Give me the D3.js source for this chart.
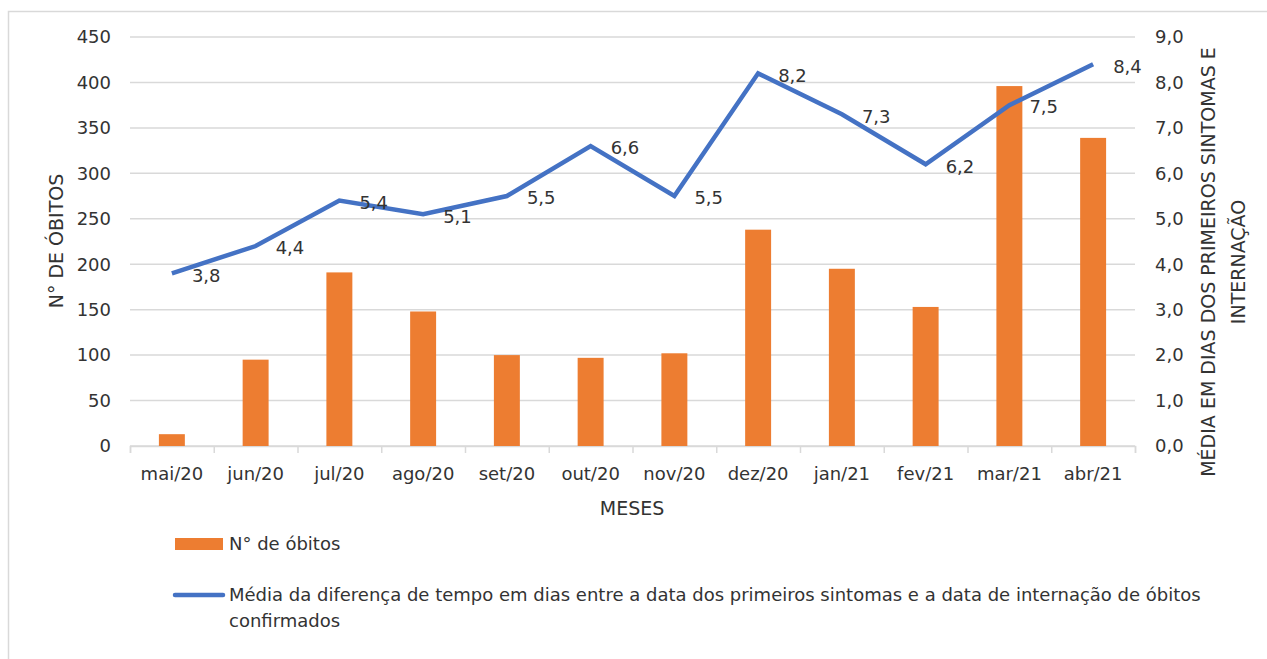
<!DOCTYPE html>
<html>
<head>
<meta charset="utf-8">
<script src="https://cdn.jsdelivr.net/npm/d3@7"></script>
<style>
	body { margin: 0; background: #fff; }
	svg text { font-family: "DejaVu Sans", sans-serif; fill: #333; }
</style>
</head>
<body>
<div id="chart"></div>
<script>
// Data
var months = ['mai/20', 'jun/20', 'jul/20', 'ago/20', 'set/20', 'out/20', 'nov/20', 'dez/20', 'jan/21', 'fev/21', 'mar/21', 'abr/21'];
var deaths = [13, 95, 191, 148, 100, 97, 102, 238, 195, 153, 396, 339];
var avgDays = [3.8, 4.4, 5.4, 5.1, 5.5, 6.6, 5.5, 8.2, 7.3, 6.2, 7.5, 8.4];
var leftTicks = [0, 50, 100, 150, 200, 250, 300, 350, 400, 450];
var rightTicks = [0, 1, 2, 3, 4, 5, 6, 7, 8, 9];

var fullWidth = 1267;
var fullHeight = 659;

var svg = d3.select('#chart')
	.append('svg')
	.attr('width', fullWidth)
	.attr('height', fullHeight);

// Plot area
var plot = {left: 130, right: 1135, top: 37, bottom: 446};

// Outer chart border
svg.append('rect')
	.attr('x', 8.5)
	.attr('y', 11.5)
	.attr('width', 1300)
	.attr('height', 700)
	.attr('fill', 'none')
	.attr('stroke', '#d9d9d9')
	.attr('stroke-width', 1.5);

// Scales
var xScale = d3.scaleBand()
	.domain(months)
	.range([plot.left, plot.right])
	.paddingInner(0.69)
	.paddingOuter(0.345);

var xEdges = d3.scaleLinear()
	.domain([0, months.length])
	.range([plot.left, plot.right]);

var yLeft = d3.scaleLinear()
	.domain([0, 450])
	.range([plot.bottom, plot.top]);

var yRight = d3.scaleLinear()
	.domain([0, 9])
	.range([plot.bottom, plot.top]);

// Gridlines
svg.append('g')
	.selectAll('line')
	.data(leftTicks)
	.enter()
	.append('line')
	.attr('x1', plot.left)
	.attr('x2', plot.right)
	.attr('y1', function(d) { return yLeft(d); })
	.attr('y2', function(d) { return yLeft(d); })
	.attr('stroke', '#d9d9d9')
	.attr('stroke-width', 1.5);

// Left axis labels
svg.append('g')
	.selectAll('text')
	.data(leftTicks)
	.enter()
	.append('text')
	.attr('x', 111)
	.attr('y', function(d) { return yLeft(d); })
	.attr('dy', '0.35em')
	.attr('text-anchor', 'end')
	.style('font-size', '18px')
	.text(function(d) { return d; });

// Right axis labels
svg.append('g')
	.selectAll('text')
	.data(rightTicks)
	.enter()
	.append('text')
	.attr('x', 1155)
	.attr('y', function(d) { return yRight(d); })
	.attr('dy', '0.35em')
	.attr('text-anchor', 'start')
	.style('font-size', '18px')
	.text(function(d) { return d.toFixed(1).replace('.', ','); });

// X axis with ticks at category edges
svg.append('g')
	.attr('transform', 'translate(0,' + plot.bottom + ')')
	.call(d3.axisBottom(xEdges).ticks(months.length).tickSize(7).tickFormat(''))
	.call(function(g) {
		g.select('.domain').attr('stroke', '#d9d9d9').attr('stroke-width', 1.5);
		g.selectAll('.tick line').attr('stroke', '#d9d9d9').attr('stroke-width', 1.5);
	});

svg.append('g')
	.selectAll('text')
	.data(months)
	.enter()
	.append('text')
	.attr('x', function(d) { return xScale(d) + xScale.bandwidth() / 2; })
	.attr('y', 474)
	.attr('dy', '0.35em')
	.attr('text-anchor', 'middle')
	.style('font-size', '18px')
	.text(function(d) { return d; });

// Bars
svg.append('g')
	.selectAll('rect')
	.data(deaths)
	.enter()
	.append('rect')
	.attr('x', function(d, i) { return xScale(months[i]); })
	.attr('y', function(d) { return yLeft(d); })
	.attr('width', xScale.bandwidth())
	.attr('height', function(d) { return yLeft(0) - yLeft(d); })
	.attr('fill', '#ED7D31');

// Line
var line = d3.line()
	.x(function(d, i) { return xScale(months[i]) + xScale.bandwidth() / 2; })
	.y(function(d) { return yRight(d); });

svg.append('path')
	.datum(avgDays)
	.attr('d', line)
	.attr('fill', 'none')
	.attr('stroke', '#4472C4')
	.attr('stroke-width', 4.5)
	.attr('stroke-linejoin', 'miter');

// Data labels
svg.append('g')
	.selectAll('text')
	.data(avgDays)
	.enter()
	.append('text')
	.attr('x', function(d, i) { return xScale(months[i]) + xScale.bandwidth() / 2 + 20; })
	.attr('y', function(d) { return yRight(d) + 2; })
	.attr('dy', '0.35em')
	.style('font-size', '18px')
	.text(function(d) { return d.toFixed(1).replace('.', ','); });

// Axis titles
svg.append('text')
	.attr('transform', 'translate(56,241) rotate(-90)')
	.attr('text-anchor', 'middle')
	.attr('dy', '0.35em')
	.style('font-size', '19px')
	.text('N° DE ÓBITOS');

svg.append('text')
	.attr('transform', 'translate(1208,262) rotate(-90)')
	.attr('text-anchor', 'middle')
	.attr('dy', '0.35em')
	.style('font-size', '19px')
	.text('MÉDIA EM DIAS DOS PRIMEIROS SINTOMAS E');

svg.append('text')
	.attr('transform', 'translate(1238,262) rotate(-90)')
	.attr('text-anchor', 'middle')
	.attr('dy', '0.35em')
	.style('font-size', '19px')
	.text('INTERNAÇÃO');

svg.append('text')
	.attr('x', 632)
	.attr('y', 508)
	.attr('dy', '0.35em')
	.attr('text-anchor', 'middle')
	.style('font-size', '19px')
	.text('MESES');

// Legend
var legend = svg.append('g');

legend.append('rect')
	.attr('x', 175)
	.attr('y', 538)
	.attr('width', 48)
	.attr('height', 12)
	.attr('fill', '#ED7D31');

legend.append('text')
	.attr('x', 229)
	.attr('y', 544)
	.attr('dy', '0.35em')
	.style('font-size', '18px')
	.text('N° de óbitos');

legend.append('line')
	.attr('x1', 175)
	.attr('x2', 223)
	.attr('y1', 595)
	.attr('y2', 595)
	.attr('stroke', '#4472C4')
	.attr('stroke-width', 4.5)
	.attr('stroke-linecap', 'round');

legend.append('text')
	.attr('x', 229)
	.attr('y', 595)
	.attr('dy', '0.35em')
	.style('font-size', '18px')
	.text('Média da diferença de tempo em dias entre a data dos primeiros sintomas e a data de internação de óbitos');

legend.append('text')
	.attr('x', 229)
	.attr('y', 621)
	.attr('dy', '0.35em')
	.style('font-size', '18px')
	.text('confirmados');
</script>
</body>
</html>
